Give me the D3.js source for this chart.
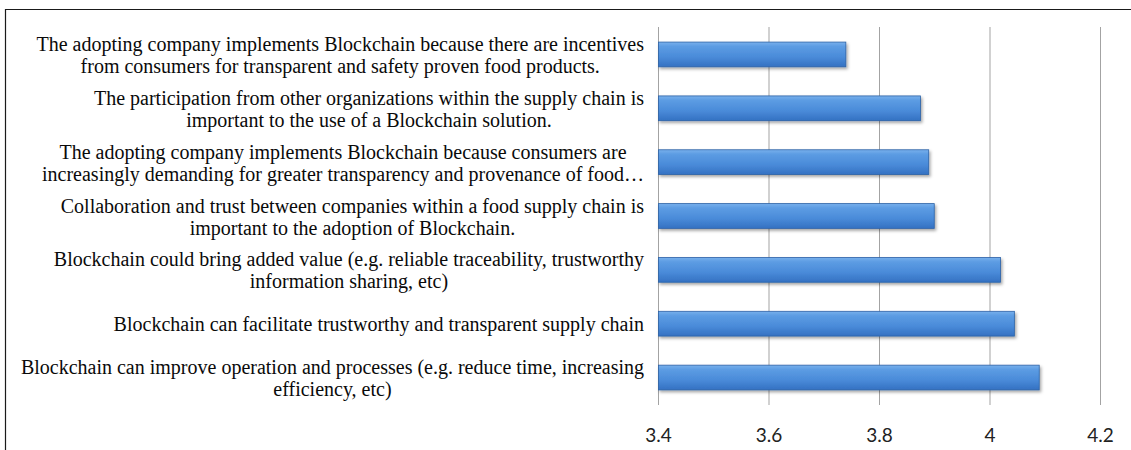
<!DOCTYPE html>
<html>
<head>
<meta charset="utf-8">
<script src="https://cdn.jsdelivr.net/npm/d3@7"></script>
<style>
  html, body { margin: 0; padding: 0; background: #fff; }
  svg { display: block; }
</style>
</head>
<body>
<svg id="chart" width="1131" height="450"></svg>
<script>
// Survey statements (wrapped as shown), top to bottom
const categories = [
  ["The adopting company implements Blockchain because there are incentives",
   "from consumers for transparent and safety proven food products."],
  ["The participation from other organizations within the supply chain is",
   "important to the use of a Blockchain solution."],
  ["The adopting company implements Blockchain because consumers are",
   "increasingly demanding for greater transparency and provenance of food\u2026"],
  ["Collaboration and trust between companies within a food supply chain is",
   "important to the adoption of Blockchain."],
  ["Blockchain could bring added value (e.g. reliable traceability, trustworthy",
   "information sharing, etc)"],
  ["Blockchain can facilitate trustworthy and transparent supply chain"],
  ["Blockchain can improve operation and processes (e.g. reduce time, increasing",
   "efficiency, etc)"]
];

// Mean agreement score per statement
const values = [3.74, 3.875, 3.89, 3.90, 4.02, 4.045, 4.09];

// Axis ticks
const tickValues = [3.4, 3.6, 3.8, 4.0, 4.2];
const tickLabels = ["3.4", "3.6", "3.8", "4", "4.2"];

const W = 1131, H = 450;
const plotTop = 27, plotBottom = 405;
const svg = d3.select("#chart");

const x = d3.scaleLinear().domain([3.4, 4.2]).range([658, 1100]);
const y = d3.scaleBand()
  .domain(d3.range(categories.length))
  .range([plotTop, plotBottom])
  .paddingInner(0.54)
  .paddingOuter(0.28);

const defs = svg.append("defs");
const grad = defs.append("linearGradient")
  .attr("id", "barFill").attr("x1", 0).attr("y1", 0).attr("x2", 0).attr("y2", 1);
[[0, "#78b0ec"], [0.18, "#5c9ce3"], [0.6, "#4a8bd9"], [1, "#3471c2"]]
  .forEach(([o, c]) => grad.append("stop").attr("offset", o).attr("stop-color", c));

const shadow = defs.append("filter").attr("id", "barShadow")
  .attr("x", "-5%").attr("y", "-30%").attr("width", "110%").attr("height", "170%");
shadow.append("feDropShadow")
  .attr("dx", 1.5).attr("dy", 2).attr("stdDeviation", 1.6)
  .attr("flood-color", "#000").attr("flood-opacity", 0.35);

// Frame lines
svg.append("line").attr("x1", 5).attr("x2", W).attr("y1", 9.5).attr("y2", 9.5)
  .attr("stroke", "#1a1a1a").attr("stroke-width", 1.2);
svg.append("line").attr("x1", 5.5).attr("x2", 5.5).attr("y1", 9).attr("y2", H)
  .attr("stroke", "#1a1a1a").attr("stroke-width", 1.2);

// Vertical gridlines
const grid = svg.append("g")
  .attr("transform", `translate(0,${plotBottom})`)
  .call(d3.axisBottom(x).tickValues(tickValues)
    .tickSize(-(plotBottom - plotTop)).tickFormat(""));
grid.select(".domain").remove();
grid.selectAll(".tick line")
  .attr("stroke", "#a3a3a3").attr("stroke-width", 1);

// Bars
svg.append("g").selectAll("rect")
  .data(values)
  .join("rect")
  .attr("x", x(3.4) + 0.5)
  .attr("y", (d, i) => y(i))
  .attr("width", d => x(d) - x(3.4) - 0.5)
  .attr("height", y.bandwidth())
  .attr("fill", "url(#barFill)")
  .attr("stroke", "#2c62a6")
  .attr("stroke-width", 0.8)
  .attr("filter", "url(#barShadow)");

// Tick labels
const axis = svg.append("g")
  .attr("transform", `translate(0,${plotBottom})`)
  .call(d3.axisBottom(x).tickValues(tickValues).tickSize(0)
    .tickFormat((d, i) => tickLabels[i]));
axis.select(".domain").remove();
axis.selectAll(".tick text")
  .attr("y", 37).attr("dy", 0)
  .attr("font-family", "Lato, 'Open Sans', sans-serif")
  .attr("font-size", 19)
  .attr("fill", "#222");

// Category labels: lines centred on each other, block right-aligned to the axis
const labelRight = 644;
const lineGap = 22;
const labels = svg.append("g")
  .attr("font-family", "'Liberation Serif', 'Times New Roman', serif")
  .attr("font-size", 20)
  .attr("fill", "#0a0a0a");

categories.forEach((lines, i) => {
  const g = labels.append("g");
  const cy = y(i) + y.bandwidth() / 2 + 1;
  const texts = lines.map((t, k) => g.append("text")
    .attr("text-anchor", "middle")
    .attr("y", cy + (k - (lines.length - 1) / 2) * lineGap + 6.5)
    .text(t));
  const maxW = d3.max(texts, t => t.node().getComputedTextLength());
  texts.forEach(t => t.attr("x", labelRight - maxW / 2));
});
</script>
</body>
</html>
